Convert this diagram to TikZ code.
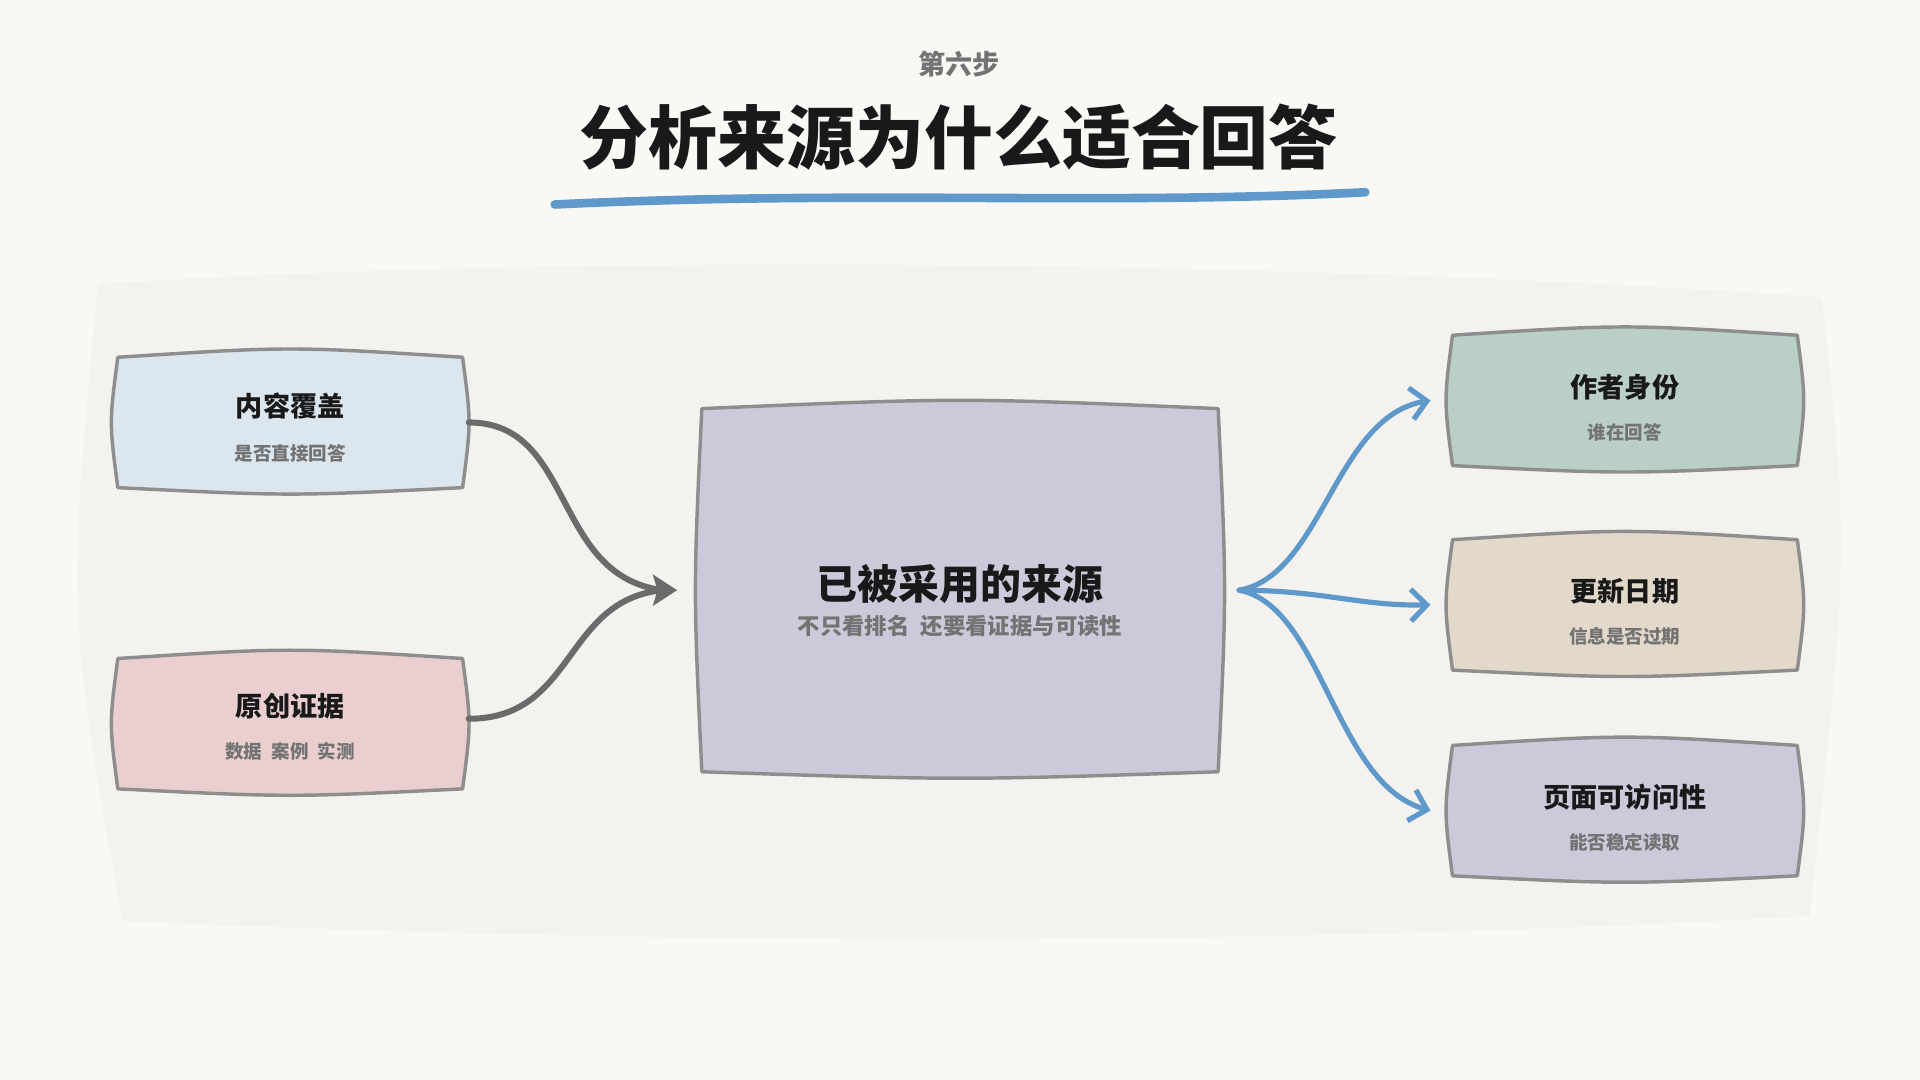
\documentclass[tikz,border=0pt]{standalone}
\usepackage{fontspec}
\newfontfamily\cjk{Noto Sans CJK SC}
\usetikzlibrary{calc,positioning,arrows.meta}
\definecolor{paper}{HTML}{F9F8F5}
\definecolor{panel}{HTML}{F3F2EF}
\definecolor{edge}{HTML}{8E8E8E}
\definecolor{inkblue}{HTML}{5F98CB}
\definecolor{cblue}{HTML}{DCE6EE}
\definecolor{cpink}{HTML}{EBCFD0}
\definecolor{clav}{HTML}{CBCADB}
\definecolor{cgreen}{HTML}{BAD0C7}
\definecolor{csand}{HTML}{E2D9CB}
\newcommand{\bulge}[2]{%
\fill[#2,draw=edge,line width=0.8pt,line join=round]
  (#1.north west) .. controls ($(#1.north)+(0,-9)$) .. (#1.north east)
  .. controls ($(#1.east)+(7,0)$) .. (#1.south east)
  .. controls ($(#1.south)+(0,7)$) .. (#1.south west)
  .. controls ($(#1.west)+(-7,0)$) .. cycle;}
\tikzset{
  box/.style={minimum width=2.8cm,minimum height=1.05cm,inner sep=0pt,align=center},
  head/.style={font=\cjk\bfseries\fontsize{6.3}{8}\selectfont,text=black!90},
  sub/.style={font=\cjk\bfseries\fontsize{4.3}{5}\selectfont,text=black!55},
  gline/.style={draw=black!58,line width=1.4pt,line cap=round},
  bline/.style={draw=inkblue,line width=1.2pt,line cap=round,-{Straight Barb[length=1.3mm,width=2.6mm]}}
}
\begin{document}
\begin{tikzpicture}[x=0.01cm,y=-0.01cm,font=\cjk]
\fill[paper] (0,0) rectangle (1568,882);
\useasboundingbox (0,0) rectangle (1568,882);
% panel
\fill[panel] (80,232) .. controls (500,205) and (1100,215) .. (1488,243)
  .. controls (1510,450) .. (1478,748) .. controls (1000,775) and (500,770) .. (100,752)
  .. controls (55,500) .. cycle;
% title
\node[font=\cjk\bfseries\fontsize{6.3}{8}\selectfont,text=black!55] (step) at (783,52) {第六步};
\node[font=\cjk\bfseries\fontsize{16}{18}\selectfont,text=black!90] (title) at (783,112) {分析来源为什么适合回答};
\draw[inkblue,line width=2pt,line cap=round] (453,167) .. controls (700,155) and (900,168) .. (1115,157);
% boxes
\node[box] (cover) at (237,345) {};
\node[box] (orig) at (237,591) {};
\node[box,minimum width=4.2cm,minimum height=2.95cm] (src) at (784,482) {};
\node[box] (author) at (1327,327) {};
\node[box] (date) at (1327,494) {};
\node[box] (access) at (1327,662) {};
\bulge{cover}{cblue}
\bulge{orig}{cpink}
\bulge{src}{clav}
\bulge{author}{cgreen}
\bulge{date}{csand}
\bulge{access}{clav}
\node[head] at (237,332) {内容覆盖};
\node[sub] at (237,370) {是否直接回答};
\node[head] at (237,577) {原创证据};
\node[sub] at (237,614) {数据\enspace 案例\enspace 实测};
\node[head,font=\cjk\bfseries\fontsize{9.5}{11}\selectfont] at (784,477) {已被采用的来源};
\node[sub,font=\cjk\bfseries\fontsize{5.2}{6}\selectfont] at (784,511) {不只看排名\enspace 还要看证据与可读性};
\node[head] at (1327,316) {作者身份};
\node[sub] at (1327,353) {谁在回答};
\node[head] at (1327,483) {更新日期};
\node[sub] at (1327,520) {信息是否过期};
\node[head] at (1327,651) {页面可访问性};
\node[sub] at (1327,688) {能否稳定读取};
% connectors
\coordinate (hub) at (553,482);
\coordinate (fork) at (1012,482);
\draw[gline] ($(cover.east)+(5,0)$) .. controls (470,345) and (450,470) .. ($(hub)+(-12,0)$);
\draw[gline] ($(orig.east)+(5,-4)$) .. controls (470,587) and (460,490) .. ($(hub)+(-12,0)$);
\fill[black!58] (hub) -- ++(-20,-13) -- ++(4,13) -- ++(-4,13) -- cycle;
\draw[bline] (fork) .. controls (1080,470) and (1090,340) .. ($(author.west)+(-18,0)$);
\draw[bline] (fork) .. controls (1080,482) and (1110,495) .. ($(date.west)+(-18,0)$);
\draw[bline] (fork) .. controls (1080,495) and (1090,640) .. ($(access.west)+(-18,0)$);
\end{tikzpicture}
\end{document}
